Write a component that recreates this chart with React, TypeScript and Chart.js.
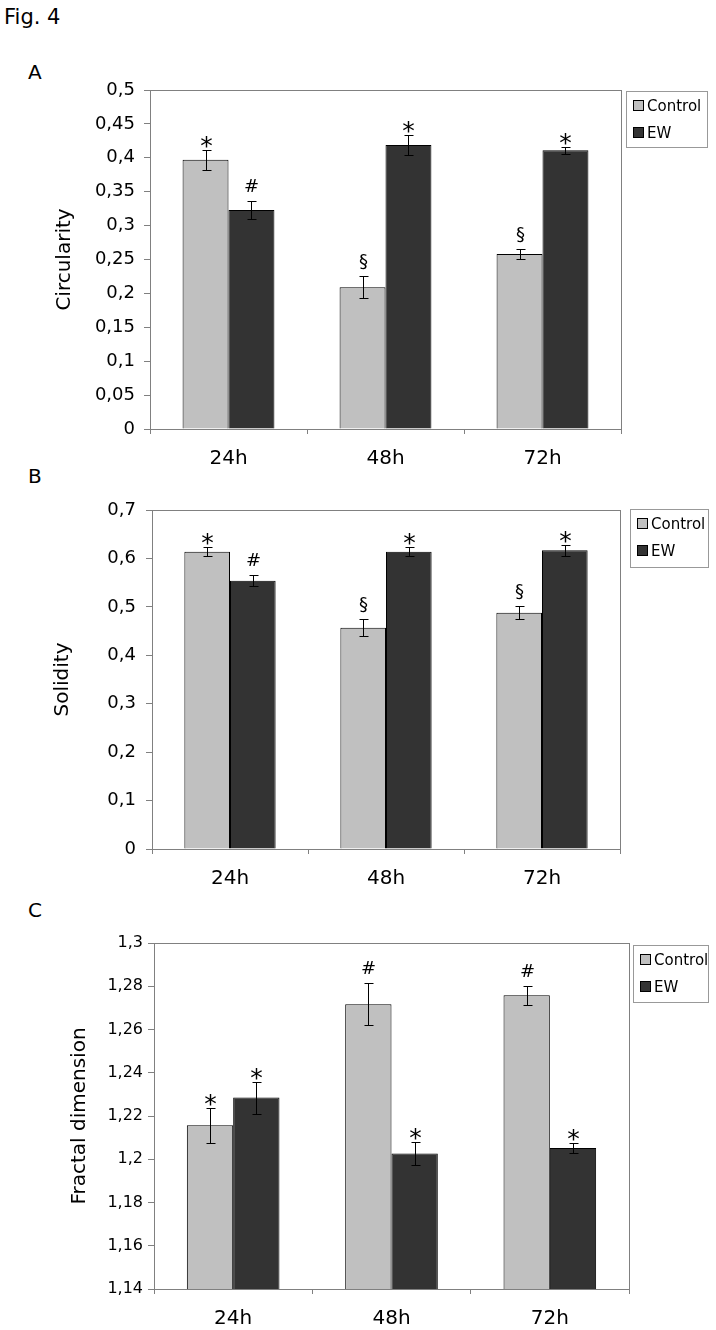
import React, { useEffect, useRef } from 'react';
import { Chart, registerables } from 'chart.js';

Chart.register(...registerables);

const FONT = '"DejaVu Sans", "Liberation Sans", sans-serif';

// ---- data ----
const categories = ['24h', '48h', '72h'];
const seriesNames = ['Control', 'EW'];

const circControl = [0.397, 0.209, 0.258];
const circControlErr = [0.015, 0.016, 0.007];
const circEW = [0.323, 0.419, 0.411];
const circEWErr = [0.013, 0.015, 0.005];
const circControlMarks = ['*', '§', '§'];
const circEWMarks = ['#', '*', '*'];
const circTicks = [0, 0.05, 0.1, 0.15, 0.2, 0.25, 0.3, 0.35, 0.4, 0.45, 0.5];

const solControl = [0.614, 0.457, 0.488];
const solControlErr = [0.01, 0.018, 0.013];
const solEW = [0.554, 0.614, 0.617];
const solEWErr = [0.011, 0.01, 0.011];
const solControlMarks = ['*', '§', '§'];
const solEWMarks = ['#', '*', '*'];
const solTicks = [0, 0.1, 0.2, 0.3, 0.4, 0.5, 0.6, 0.7];

const fracControl = [1.2157, 1.2717, 1.2758];
const fracControlErr = [0.008, 0.0097, 0.0043];
const fracEW = [1.2285, 1.2027, 1.2052];
const fracEWErr = [0.0074, 0.0055, 0.0024];
const fracControlMarks = ['*', '#', '#'];
const fracEWMarks = ['*', '*', '*'];
const fracTicks = [1.14, 1.16, 1.18, 1.2, 1.22, 1.24, 1.26, 1.28, 1.3];

const CONTROL_COLOR = '#c0c0c0';
const EW_COLOR = '#333333';
const FRAME_COLOR = '#808080';

type Layout = {
  top: number; height: number;
  plotLeft: number; plotRight: number; plotTop: number; plotBottom: number;
  titleX: number; tickSize: number; tickPad: number;
  legend: { x: number; y: number; w: number; h: number };
};

type PanelProps = {
  layout: Layout;
  title: string;
  ticks: number[];
  control: number[]; controlErr: number[]; controlMarks: string[];
  ew: number[]; ewErr: number[]; ewMarks: string[];
};

const fmt = (v: number) => String(+Number(v).toFixed(3)).replace('.', ',');

function Panel(p: PanelProps) {
  const ref = useRef<HTMLCanvasElement | null>(null);
  useEffect(() => {
    const L = p.layout;
    const canvas = ref.current!;
    const framePlugin = {
      id: 'frame',
      beforeDatasetsDraw(chart: any) {
        const { ctx, chartArea: a } = chart;
        ctx.save();
        ctx.strokeStyle = FRAME_COLOR;
        ctx.lineWidth = 1;
        ctx.strokeRect(Math.round(a.left) + 0.5, Math.round(a.top) + 0.5,
          Math.round(a.right - a.left), Math.round(a.bottom - a.top));
        ctx.restore();
      },
    };
    const errPlugin = {
      id: 'errs',
      afterDatasetsDraw(chart: any) {
        const { ctx } = chart;
        const ys = chart.scales.y;
        ctx.save();
        chart.data.datasets.forEach((ds: any, di: number) => {
          const meta = chart.getDatasetMeta(di);
          meta.data.forEach((el: any, i: number) => {
            const v = ds.data[i];
            const e = ds.errors[i];
            const x = Math.round(el.x) + 0.5;
            const yt = Math.round(ys.getPixelForValue(v + e)) + 0.5;
            const yb = Math.round(ys.getPixelForValue(v - e)) + 0.5;
            ctx.strokeStyle = '#000';
            ctx.lineWidth = 1;
            ctx.beginPath();
            ctx.moveTo(x, yt); ctx.lineTo(x, yb);
            ctx.moveTo(x - 4, yt); ctx.lineTo(x + 5, yt);
            ctx.moveTo(x - 4, yb); ctx.lineTo(x + 5, yb);
            ctx.stroke();
            const m = ds.marks[i];
            ctx.fillStyle = '#000';
            ctx.textAlign = 'center';
            ctx.textBaseline = 'alphabetic';
            if (m === '*') {
              ctx.font = `25px ${FONT}`;
              ctx.fillText(m, x, yt + 3);
            } else {
              ctx.font = `18px ${FONT}`;
              ctx.fillText(m, x, yt - 10);
            }
          });
        });
        ctx.restore();
      },
    };
    const legendPlugin = {
      id: 'customLegend',
      afterDraw(chart: any) {
        const { ctx } = chart;
        const lx = L.legend.x, ly = L.legend.y - L.top;
        ctx.save();
        ctx.fillStyle = '#fff';
        ctx.fillRect(lx, ly, L.legend.w, L.legend.h);
        ctx.strokeStyle = '#999';
        ctx.lineWidth = 1;
        ctx.strokeRect(lx + 0.5, ly + 0.5, L.legend.w, L.legend.h);
        chart.data.datasets.forEach((ds: any, i: number) => {
          const cy = ly + 15 + i * 27;
          ctx.fillStyle = ds.backgroundColor;
          ctx.fillRect(lx + 7, Math.round(cy - 6), 11, 11);
          ctx.strokeStyle = '#000';
          ctx.strokeRect(lx + 7.5, Math.round(cy - 6) + 0.5, 10, 10);
          ctx.fillStyle = '#000';
          ctx.font = `15px ${FONT}`;
          ctx.textAlign = 'left';
          ctx.textBaseline = 'middle';
          ctx.fillText(ds.label, lx + 21, cy + 1);
        });
        ctx.restore();
      },
    };
    const chart = new Chart(canvas, {
      type: 'bar',
      data: {
        labels: categories,
        datasets: [
          { label: seriesNames[0], data: p.control, backgroundColor: CONTROL_COLOR, borderColor: '#000', borderWidth: 1, errors: p.controlErr, marks: p.controlMarks } as any,
          { label: seriesNames[1], data: p.ew, backgroundColor: EW_COLOR, borderColor: '#000', borderWidth: 1, errors: p.ewErr, marks: p.ewMarks } as any,
        ],
      },
      options: {
        responsive: false,
        maintainAspectRatio: false,
        animation: false,
        layout: { padding: { left: 0, right: 716 - L.plotRight, top: L.plotTop - L.top, bottom: 0 } },
        datasets: { bar: { categoryPercentage: 0.585, barPercentage: 1 } },
        plugins: { legend: { display: false }, tooltip: { enabled: false } },
        scales: {
          x: {
            grid: { display: true, drawOnChartArea: false, tickLength: 5, color: FRAME_COLOR, offset: true },
            border: { color: FRAME_COLOR },
            ticks: { font: { family: FONT, size: 20 }, color: '#000', padding: 13 },
            afterFit: (s: any) => { s.height = L.top + L.height - L.plotBottom; },
          },
          y: {
            min: p.ticks[0],
            max: p.ticks[p.ticks.length - 1],
            afterBuildTicks: (s: any) => { s.ticks = p.ticks.map((v) => ({ value: v })); },
            grid: { display: true, drawOnChartArea: false, tickLength: 6, color: FRAME_COLOR },
            border: { color: FRAME_COLOR },
            ticks: { font: { family: FONT, size: L.tickSize }, color: '#000', padding: L.tickPad, callback: (v: any) => fmt(v) },
            title: { display: true, text: p.title, font: { family: FONT, size: 20 }, color: '#000', padding: { top: L.titleX - 12, bottom: 0 } },
            afterFit: (s: any) => { s.width = L.plotLeft; },
          },
        },
      } as any,
      plugins: [framePlugin, errPlugin, legendPlugin],
    });
    return () => chart.destroy();
  }, []);
  return (
    <canvas
      ref={ref}
      width={716}
      height={p.layout.height}
      style={{ position: 'absolute', left: 0, top: p.layout.top, display: 'block' }}
    />
  );
}

const layoutA: Layout = { top: 60, height: 410, plotLeft: 150, plotRight: 621, plotTop: 90, plotBottom: 429, titleX: 65, tickSize: 18, tickPad: 9, legend: { x: 626, y: 91, w: 81, h: 56 } };
const layoutB: Layout = { top: 470, height: 428, plotLeft: 152, plotRight: 620, plotTop: 510, plotBottom: 849, titleX: 63, tickSize: 18, tickPad: 10, legend: { x: 630, y: 509, w: 78, h: 58 } };
const layoutC: Layout = { top: 898, height: 432, plotLeft: 154, plotRight: 629, plotTop: 943, plotBottom: 1289, titleX: 80, tickSize: 16, tickPad: 5, legend: { x: 633, y: 945, w: 75, h: 57 } };

const labelStyle = (left: number, top: number, size: number): React.CSSProperties => ({
  position: 'absolute', left, top, fontFamily: FONT, fontSize: size, lineHeight: 1, color: '#000', whiteSpace: 'nowrap',
});

export default function App() {
  useEffect(() => { document.body.style.margin = '0'; }, []);
  return (
    <div style={{ position: 'absolute', left: 0, top: 0, width: 716, height: 1330, background: '#fff', overflow: 'hidden' }}>
      <div style={labelStyle(4, 7, 21)}>Fig. 4</div>
      <div style={labelStyle(28, 62, 20)}>A</div>
      <div style={labelStyle(28, 466, 20)}>B</div>
      <div style={labelStyle(28, 900, 20)}>C</div>
      <Panel layout={layoutA} title="Circularity" ticks={circTicks}
        control={circControl} controlErr={circControlErr} controlMarks={circControlMarks}
        ew={circEW} ewErr={circEWErr} ewMarks={circEWMarks} />
      <Panel layout={layoutB} title="Solidity" ticks={solTicks}
        control={solControl} controlErr={solControlErr} controlMarks={solControlMarks}
        ew={solEW} ewErr={solEWErr} ewMarks={solEWMarks} />
      <Panel layout={layoutC} title="Fractal dimension" ticks={fracTicks}
        control={fracControl} controlErr={fracControlErr} controlMarks={fracControlMarks}
        ew={fracEW} ewErr={fracEWErr} ewMarks={fracEWMarks} />
    </div>
  );
}
